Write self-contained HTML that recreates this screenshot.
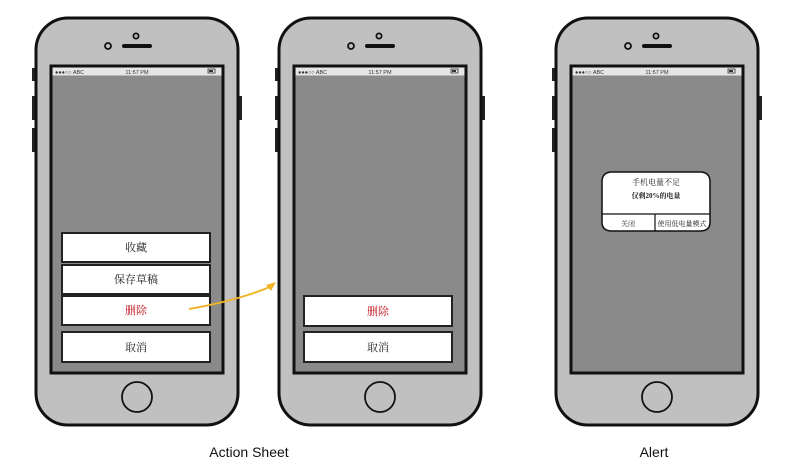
<!DOCTYPE html>
<html><head><meta charset="utf-8"><style>
body{margin:0;background:#fff;}
svg{display:block;font-family:"Liberation Serif","Noto Serif CJK SC",serif;}
</style></head><body>
<svg width="800" height="475" viewBox="0 0 800 475" xmlns="http://www.w3.org/2000/svg">
<defs>
<g id="phone">
  <rect x="-4" y="50" width="4" height="13" fill="#222"/>
  <rect x="-4" y="78" width="4" height="24" fill="#222"/>
  <rect x="-4" y="110" width="4" height="24" fill="#222"/>
  <rect x="202" y="78" width="4" height="24" fill="#222"/>
  <rect x="0" y="0" width="202" height="407" rx="32" fill="#c0c0c0" stroke="#111" stroke-width="3"/>
  <rect x="15" y="48" width="172" height="307" fill="#8a8a8a" stroke="#111" stroke-width="3"/>
  <rect x="16.5" y="49.5" width="169" height="8" fill="#e6e6e6"/>
  <text x="19" y="56" font-family="Liberation Sans,sans-serif" font-size="5.5" fill="#333">●●●○○ ABC</text>
  <text x="101" y="56" font-family="Liberation Sans,sans-serif" font-size="5.5" fill="#333" text-anchor="middle">11:57 PM</text>
  <rect x="172" y="51" width="7" height="4" fill="none" stroke="#333" stroke-width="0.8"/>
  <rect x="173" y="52" width="4" height="2" fill="#333"/>
  <circle cx="100" cy="18" r="2.6" fill="none" stroke="#111" stroke-width="1.8"/>
  <circle cx="72" cy="28" r="3" fill="none" stroke="#111" stroke-width="1.8"/>
  <line x1="88" y1="28" x2="114" y2="28" stroke="#111" stroke-width="4" stroke-linecap="round"/>
  <circle cx="101" cy="379" r="15" fill="none" stroke="#111" stroke-width="1.8"/>
</g>
</defs>
<use href="#phone" x="36" y="18"/>
<use href="#phone" x="279" y="18"/>
<use href="#phone" x="556" y="18"/>

<g stroke="#222" stroke-width="2" fill="#fff" font-size="11" text-anchor="middle">
  <rect x="62" y="233" width="148" height="29"/>
  <rect x="62" y="265" width="148" height="29"/>
  <rect x="62" y="296" width="148" height="29"/>
  <rect x="62" y="332" width="148" height="30"/>
  <rect x="304" y="296" width="148" height="30"/>
  <rect x="304" y="332" width="148" height="30"/>
</g>
<g font-size="11" text-anchor="middle" fill="#222">
  <text x="136" y="251">收藏</text>
  <text x="136" y="283">保存草稿</text>
  <text x="136" y="314" fill="#c0141c">删除</text>
  <text x="136" y="351">取消</text>
  <text x="378" y="315" fill="#c0141c">删除</text>
  <text x="378" y="351">取消</text>
</g>

<path d="M189 309 Q240 300 272 286" fill="none" stroke="#f0b429" stroke-width="2"/>
<path d="M276 282 L266 285 L271 291 Z" fill="#f0b429"/>

<path d="M612 172 H700 Q710 172 710 182 V222 Q710 231 700 231 H612 Q602 231 602 222 V182 Q602 172 612 172 Z" fill="#fff" stroke="#111" stroke-width="1.5"/>
<line x1="602" y1="214" x2="710" y2="214" stroke="#111" stroke-width="1.2"/>
<line x1="655" y1="214" x2="655" y2="231" stroke="#111" stroke-width="1.2"/>
<g text-anchor="middle" fill="#222">
  <text x="656" y="185" font-size="8">手机电量不足</text>
  <text x="656" y="198" font-size="7" font-weight="bold">仅剩20%的电量</text>
  <text x="628" y="226" font-size="7">关闭</text>
  <text x="682" y="226" font-size="7">使用低电量模式</text>
</g>

<g font-family="Liberation Sans,sans-serif" font-size="14" fill="#111" text-anchor="middle">
  <text x="249" y="457">Action Sheet</text>
  <text x="654" y="457">Alert</text>
</g>
</svg>
</body></html>
